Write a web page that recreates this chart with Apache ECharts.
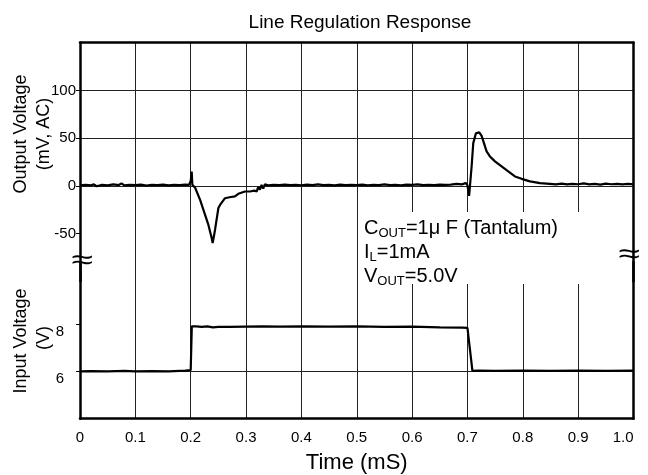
<!DOCTYPE html>
<html>
<head>
<meta charset="utf-8">
<script src="https://cdn.jsdelivr.net/npm/echarts@6/dist/echarts.min.js"></script>
<style>html,body{margin:0;padding:0;background:#fff;}#c{width:648px;height:475px;}</style>
</head>
<body>
<div id="c"></div>
<script>
// ---- data (time in mS) ----
var timeTicks = [0, 0.1, 0.2, 0.3, 0.4, 0.5, 0.6, 0.7, 0.8, 0.9, 1.0];
var outputTicks = [-50, 0, 50, 100];   // mV, AC
var inputTicks = [6, 8];               // V

// Output voltage (mV, AC) trace: [time, mV]
var outputVoltage = [
  [0,0.5],[0.01,1],[0.02,0.5],[0.025,1.5],[0.03,-0.5],[0.04,1],[0.05,0.5],[0.06,1.5],[0.07,0.8],[0.075,2.5],
  [0.08,0.5],[0.09,1],[0.1,0.8],[0.11,1.2],[0.12,0.3],[0.13,1],[0.14,0.7],[0.15,1.3],[0.16,0.5],[0.17,1],
  [0.18,0.8],[0.19,1.2],[0.197,1],[0.2,5],[0.2018,15],[0.203,1],[0.208,-2],[0.217,-14.7],[0.226,-30.4],
  [0.232,-41],[0.238,-55],[0.2397,-60],[0.244,-46],[0.25,-23.4],[0.253,-20],[0.262,-13],[0.27,-12],
  [0.28,-11],[0.286,-8.4],[0.298,-6],[0.307,-6],[0.315,-5],[0.319,-6],[0.322,-1.5],[0.325,-4],[0.328,1],
  [0.331,-3],[0.334,1.5],[0.34,0.5],[0.35,1],[0.36,0.7],[0.37,1.2],[0.38,0.8],[0.39,1],[0.4,0.6],[0.41,1.2],
  [0.42,0.8],[0.43,1.5],[0.44,0.7],[0.45,1],[0.46,0.5],[0.47,1.2],[0.48,0.8],[0.49,1],[0.5,0.7],[0.51,1.3],
  [0.52,0.6],[0.53,1],[0.54,0.8],[0.55,1.4],[0.56,0.7],[0.57,1],[0.58,0.6],[0.59,1.2],[0.6,0.9],[0.61,1.5],
  [0.62,0.7],[0.63,1.1],[0.64,0.8],[0.65,1.3],[0.66,0.9],[0.67,1.2],[0.68,2],[0.69,1.5],[0.697,3],[0.7,0.5],
  [0.703,-10.5],[0.7075,20],[0.7105,44.7],[0.7153,55],[0.7213,56],[0.7256,52.4],[0.7346,36],[0.7406,30.8],
  [0.7497,25.6],[0.7617,20.3],[0.7737,15],[0.7858,9.8],[0.798,7.3],[0.813,4.6],[0.831,2.8],[0.849,2],
  [0.86,1.5],[0.87,2.2],[0.88,1.4],[0.89,2],[0.9,1.6],[0.91,2.5],[0.92,1.5],[0.93,2],[0.94,1.3],[0.95,2.2],
  [0.96,1.6],[0.97,2],[0.98,1.4],[0.99,2.1],[1.0,1.6]
];

// Input voltage (V) trace: [time, V]
var inputVoltage = [
  [0,6.0],[0.02,6.01],[0.05,6.0],[0.08,6.02],[0.1,6.0],[0.13,6.01],[0.16,6.0],[0.19,6.03],[0.2,6.05],
  [0.2015,6.0],[0.202,7.9],[0.21,7.9],[0.22,7.88],[0.23,7.9],[0.24,7.86],[0.25,7.88],[0.27,7.88],[0.3,7.89],
  [0.33,7.9],[0.36,7.89],[0.4,7.9],[0.45,7.89],[0.5,7.9],[0.55,7.88],[0.6,7.89],[0.65,7.86],[0.69,7.85],
  [0.7,7.84],[0.703,7.82],[0.709,6.02],[0.72,6.03],[0.75,6.02],[0.8,6.03],[0.85,6.02],[0.9,6.03],[0.95,6.02],[1.0,6.03]
];

var FONT = 'Liberation Sans, Arial, sans-serif';
var chart = echarts.init(document.getElementById('c'), null, {renderer: 'canvas'});

function showOnly(list) {
  return function (v) { return list.indexOf(Math.round(v * 1000) / 1000) >= 0 ? String(v) : ''; };
}
var border = {show: true, onZero: false, lineStyle: {color: '#000', width: 2.5}};
var grid1 = {color: '#222', width: 1};

chart.setOption({
  animation: false,
  title: {
    text: 'Line Regulation Response', left: 355, top: 8, textAlign: 'center',
    textStyle: {fontFamily: FONT, fontSize: 19, fontWeight: 'normal', color: '#000'}
  },
  grid: [
    {left: 80, width: 553.5, top: 42.7, height: 238.5},
    {left: 80, width: 553.5, top: 262, height: 156.7}
  ],
  xAxis: [
    {gridIndex: 0, type: 'value', position: 'top', min: 0, max: 1, interval: 0.1,
     axisLine: border, axisTick: {show: false}, axisLabel: {show: false},
     splitLine: {show: true, lineStyle: grid1}},
    {gridIndex: 1, type: 'value', position: 'bottom', min: 0, max: 1, interval: 0.1,
     axisLine: border, axisTick: {show: false},
     axisLabel: {show: true, margin: 12, fontFamily: FONT, fontSize: 15, color: '#000',
       alignMaxLabel: 'right',
       formatter: function (v) { var i = timeTicks.indexOf(Math.round(v * 10) / 10); return i < 0 ? '' : (v === 1 ? '1.0' : String(timeTicks[i])); }},
     splitLine: {show: true, lineStyle: grid1},
     name: 'Time (mS)', nameLocation: 'middle', nameGap: 33,
     nameTextStyle: {fontFamily: FONT, fontSize: 22, color: '#000'}}
  ],
  yAxis: [
    {gridIndex: 0, type: 'value', min: -100, max: 150, interval: 50, position: 'left',
     axisLine: border,
     axisTick: {show: true, length: 4, customValues: outputTicks, lineStyle: {color: '#000', width: 1}},
     axisLabel: {show: true, margin: 4, fontFamily: FONT, fontSize: 15, color: '#000', showMinLabel: false,
       formatter: showOnly(outputTicks)},
     splitLine: {show: true, showMinLine: false, lineStyle: grid1}},
    {gridIndex: 0, type: 'value', min: -100, max: 150, interval: 50, position: 'right',
     axisLine: border, axisTick: {show: false}, axisLabel: {show: false}, splitLine: {show: false}},
    {gridIndex: 1, type: 'value', min: 4, max: 10.62, interval: 2, position: 'left',
     axisLine: border,
     axisTick: {show: true, length: 4, customValues: inputTicks, lineStyle: {color: '#000', width: 1}},
     axisLabel: {show: true, margin: 16, fontFamily: FONT, fontSize: 15, color: '#000', verticalAlign: 'top',
       showMaxLabel: false, formatter: showOnly(inputTicks)},
     splitLine: {show: true, showMaxLine: false, lineStyle: grid1}},
    {gridIndex: 1, type: 'value', min: 4, max: 10.62, interval: 2, position: 'right',
     axisLine: border, axisTick: {show: false}, axisLabel: {show: false}, splitLine: {show: false}}
  ],
  series: [
    {type: 'line', xAxisIndex: 0, yAxisIndex: 0, data: outputVoltage, showSymbol: false,
     lineStyle: {color: '#000', width: 2.2}, z: 5},
    {type: 'line', xAxisIndex: 1, yAxisIndex: 2, data: inputVoltage, showSymbol: false,
     lineStyle: {color: '#000', width: 2.2}, z: 5}
  ],
  graphic: [
    {type: 'text', x: 21, y: 134, rotation: Math.PI / 2, z: 100,
     style: {text: 'Output Voltage', fontFamily: FONT, fontSize: 18, fill: '#000', align: 'center', verticalAlign: 'middle'}},
    {type: 'text', x: 44, y: 134, rotation: Math.PI / 2, z: 100,
     style: {text: '(mV, AC)', fontFamily: FONT, fontSize: 18, fill: '#000', align: 'center', verticalAlign: 'middle'}},
    {type: 'text', x: 21, y: 341, rotation: Math.PI / 2, z: 100,
     style: {text: 'Input Voltage', fontFamily: FONT, fontSize: 18, fill: '#000', align: 'center', verticalAlign: 'middle'}},
    {type: 'text', x: 44, y: 338, rotation: Math.PI / 2, z: 100,
     style: {text: '(V)', fontFamily: FONT, fontSize: 18, fill: '#000', align: 'center', verticalAlign: 'middle'}},
    {type: 'rect', shape: {x: 360, y: 212, width: 222, height: 72}, z: 90,
     style: {fill: '#fff'}},
    {type: 'text', x: 364, y: 216, z: 100,
     style: {
       text: 'C{s|OUT}=1μ F (Tantalum)\nI{s|L}=1mA\nV{s|OUT}=5.0V',
       fontFamily: FONT, fontSize: 20, fill: '#000', lineHeight: 24,
       rich: {s: {fontFamily: FONT, fontSize: 13, fill: '#000', lineHeight: 24, verticalAlign: 'bottom'}}
     }},
    {type: 'text', x: 82, y: 261, z: 100, scaleX: 1.4,
     style: {text: '≈', fontFamily: FONT, fontSize: 28, fill: '#000', align: 'center', verticalAlign: 'middle'}},
    {type: 'text', x: 629, y: 255, z: 100, scaleX: 1.4,
     style: {text: '≈', fontFamily: FONT, fontSize: 28, fill: '#000', align: 'center', verticalAlign: 'middle'}}
  ]
});
</script>
</body>
</html>
